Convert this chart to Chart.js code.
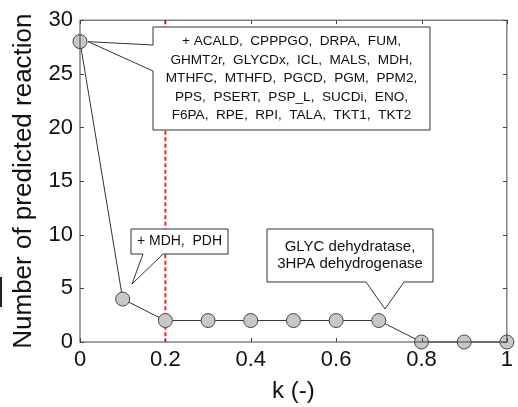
<!DOCTYPE html>
<html>
<head>
<meta charset="utf-8">
<script src="https://cdn.jsdelivr.net/npm/chart.js@4"></script>
<style>
  html, body { margin: 0; padding: 0; background: #fff; }
  #wrap { width: 518px; height: 407px; position: relative; }
</style>
</head>
<body>
<div id="wrap"><canvas id="chart" width="518" height="407"></canvas></div>
<script>
const kValues = [0, 0.1, 0.2, 0.3, 0.4, 0.5, 0.6, 0.7, 0.8, 0.9, 1];
const reactionCounts = [28, 4, 2, 2, 2, 2, 2, 2, 0, 0, 0];
const xTicks = [0, 0.2, 0.4, 0.6, 0.8, 1];
const yTicks = [0, 5, 10, 15, 20, 25, 30];
const thresholdK = 0.2;

const notes = [
  { at: 0, box: [153, 27, 430, 130], side: 'left', base: [45, 71], size: 13.6, lh: 18.4,
    lines: ['+ ACALD,  CPPPGO,  DRPA,  FUM,', 'GHMT2r,  GLYCDx,  ICL,  MALS,  MDH,', 'MTHFC,  MTHFD,  PGCD,  PGM,  PPM2,',
            'PPS,  PSERT,  PSP_L,  SUCDi,  ENO,', 'F6PA,  RPE,  RPI,  TALA,  TKT1,  TKT2'] },
  { at: 1, box: [131, 229, 228, 254], side: 'bottom', base: [143, 163], tip: [132, 284], size: 14, lh: 16,
    lines: ['+ MDH,  PDH'] },
  { at: 7, box: [267, 229, 433, 282], side: 'bottom', base: [366, 404], tip: [385, 309], size: 15, lh: 17.5,
    lines: ['GLYC dehydratase,', '3HPA dehydrogenase'] }
];

const font = '"Liberation Sans", Arial, sans-serif';

const decor = {
  id: 'decor',
  beforeDatasetsDraw(chart) {
    const { ctx, chartArea: a, scales: { x, y } } = chart;
    ctx.save();
    // red dashed threshold
    const tx = x.getPixelForValue(thresholdK);
    ctx.strokeStyle = '#ff2020';
    ctx.lineWidth = 2;
    ctx.setLineDash([4, 2.5]);
    ctx.beginPath(); ctx.moveTo(tx, a.top); ctx.lineTo(tx, a.bottom); ctx.stroke();
    ctx.setLineDash([]);

    // callouts
    notes.forEach(n => {
      const [l, t, r, b] = n.box;
      let tip = n.tip;
      if (!tip) tip = [x.getPixelForValue(kValues[n.at]) + 8, y.getPixelForValue(reactionCounts[n.at])];
      ctx.beginPath();
      if (n.side === 'left') {
        ctx.moveTo(l, t); ctx.lineTo(r, t); ctx.lineTo(r, b); ctx.lineTo(l, b);
        ctx.lineTo(l, n.base[1]); ctx.lineTo(tip[0], tip[1]); ctx.lineTo(l, n.base[0]);
      } else {
        ctx.moveTo(l, t); ctx.lineTo(r, t); ctx.lineTo(r, b);
        ctx.lineTo(n.base[1], b); ctx.lineTo(tip[0], tip[1]); ctx.lineTo(n.base[0], b); ctx.lineTo(l, b);
      }
      ctx.closePath();
      ctx.fillStyle = '#fff';
      ctx.fill();
      ctx.strokeStyle = '#333';
      ctx.lineWidth = 1;
      ctx.stroke();
      ctx.fillStyle = '#111';
      ctx.font = n.size + 'px ' + font;
      ctx.textAlign = 'center';
      ctx.textBaseline = 'middle';
      const cx = (l + r) / 2, cy = (t + b) / 2;
      n.lines.forEach((s, i) => {
        ctx.fillText(s, cx, cy + (i - (n.lines.length - 1) / 2) * n.lh);
      });
    });
    ctx.restore();
  },
  afterDraw(chart) {
    const { ctx, chartArea: a, scales: { x, y } } = chart;
    ctx.save();
    ctx.strokeStyle = '#444';
    ctx.lineWidth = 1;
    ctx.strokeRect(a.left, a.top, a.right - a.left, a.bottom - a.top);
    ctx.beginPath();
    xTicks.forEach(v => {
      const px = Math.round(x.getPixelForValue(v)) + 0.5;
      ctx.moveTo(px, a.bottom); ctx.lineTo(px, a.bottom - 4);
      ctx.moveTo(px, a.top); ctx.lineTo(px, a.top + 4);
    });
    yTicks.forEach(v => {
      const py = Math.round(y.getPixelForValue(v)) + 0.5;
      ctx.moveTo(a.left, py); ctx.lineTo(a.left + 4, py);
      ctx.moveTo(a.right, py); ctx.lineTo(a.right - 4, py);
    });
    ctx.stroke();
    // stray mark at left edge of the original figure
    ctx.strokeStyle = '#222';
    ctx.lineWidth = 2;
    ctx.beginPath(); ctx.moveTo(1, 277); ctx.lineTo(1, 307); ctx.stroke();
    ctx.restore();
  }
};

new Chart(document.getElementById('chart'), {
  type: 'line',
  data: {
    datasets: [{
      data: kValues.map((k, i) => ({ x: k, y: reactionCounts[i] })),
      borderColor: '#333',
      borderWidth: 1,
      pointRadius: 7,
      pointBackgroundColor: '#c8c8c8',
      pointBorderColor: '#444',
      pointBorderWidth: 1,
      clip: false
    }]
  },
  options: {
    responsive: false,
    animation: false,
    layout: { padding: { top: 13, right: 7, left: 0, bottom: 0 } },
    plugins: { legend: { display: false }, tooltip: { enabled: false } },
    scales: {
      x: {
        type: 'linear', min: 0, max: 1,
        afterBuildTicks: s => { s.ticks = xTicks.map(v => ({ value: v })); },
        afterFit: s => { s.height = 65; },
        grid: { display: false, drawTicks: false },
        border: { display: false },
        ticks: { color: '#111', font: { family: font, size: 22 }, padding: 5, maxRotation: 0,
          callback: v => String(v) },
        title: { display: true, text: 'k (-)', color: '#111', font: { family: font, size: 24 }, padding: { top: 0, bottom: 1 } }
      },
      y: {
        min: 0, max: 30,
        afterBuildTicks: s => { s.ticks = yTicks.map(v => ({ value: v })); },
        afterFit: s => { s.width = 80; },
        grid: { display: false, drawTicks: false },
        border: { display: false },
        ticks: { color: '#111', font: { family: font, size: 22 }, padding: 7 },
        title: { display: true, text: 'Number of predicted reaction', color: '#111', font: { family: font, size: 26 }, padding: { top: 8, bottom: 0 } }
      }
    }
  },
  plugins: [decor]
});
</script>
</body>
</html>
